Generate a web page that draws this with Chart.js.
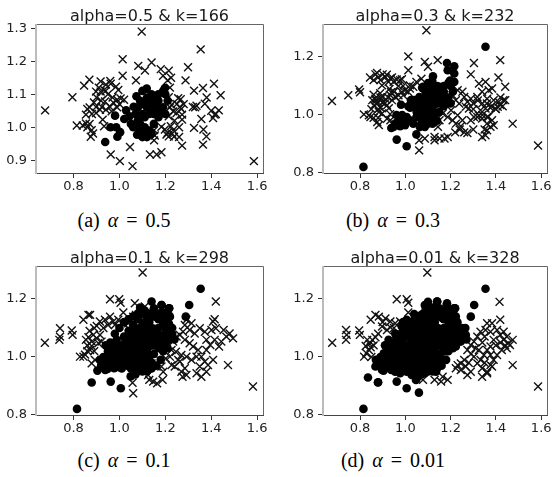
<!DOCTYPE html>
<html><head><meta charset="utf-8">
<script src="https://cdn.jsdelivr.net/npm/chart.js@4/dist/chart.umd.min.js"></script>
<style>
html,body{margin:0;padding:0;background:#fff}
body{width:555px;height:477px;position:relative;overflow:hidden}
canvas{position:absolute}
.cap{position:absolute;font-family:"Liberation Serif","DejaVu Serif",serif;font-size:20px;line-height:20px;color:#000;white-space:nowrap;transform:translateX(-50%)}
.cap i{font-style:italic}
</style></head><body>
<canvas id="pa" width="278" height="196" style="left:0px;top:0px"></canvas>
<canvas id="pb" width="268" height="196" style="left:287px;top:0px"></canvas>
<canvas id="pc" width="278" height="196" style="left:0px;top:242px"></canvas>
<canvas id="pd" width="268" height="196" style="left:287px;top:242px"></canvas>
<div class="cap" id="capa" style="left:124px;top:210px"></div>
<div class="cap" id="capb" style="left:393px;top:210px"></div>
<div class="cap" id="capc" style="left:124px;top:450px"></div>
<div class="cap" id="capd" style="left:393px;top:450px"></div>
<script>
// ---------- data ----------
const titles = ['alpha=0.5 & k=166','alpha=0.3 & k=232','alpha=0.1 & k=298','alpha=0.01 & k=328'];
const capLetters = ['(a)','(b)','(c)','(d)'];
const capAlphas = ['0.5','0.3','0.1','0.01'];
const xTicks = [0.8,1.0,1.2,1.4,1.6];
const yTicksA = [0.9,1.0,1.1,1.2,1.3];
const yTicksBCD = [0.8,1.0,1.2];
const xRange = [0.632,1.630];
const yRangeA = [0.858,1.313];
const yRangeBCD = [0.7965,1.3135];

const crossA = [
[0.676,1.051],[0.795,1.091],[0.846,1.126],[0.869,1.144],[0.860,1.055],[0.854,1.038],[0.814,1.005],[0.840,1.005],[0.854,1.011],[0.879,0.991],[0.875,0.971],[0.885,0.981],
[0.918,1.139],[0.898,1.108],[0.918,1.108],[0.941,1.129],[0.962,1.132],[0.985,1.123],[0.995,1.113],[0.933,1.113],
[0.889,1.075],[0.898,1.061],[0.923,1.061],[0.937,1.078],[0.959,1.061],[0.973,1.075],[0.990,1.083],[1.005,1.087],[1.020,1.083],[0.915,1.053],[0.941,1.053],[0.966,1.048],[0.933,1.003],[0.927,1.023],[0.898,1.043],
[0.870,1.060],[0.880,1.040],[0.900,1.090],[0.920,1.080],[0.950,1.100],[0.970,1.090],[0.960,1.140],[0.990,1.060],[1.000,1.070],[0.910,1.120],[0.940,1.110],[0.870,1.010],[0.860,1.000],
[1.014,1.206],[1.014,1.156],[1.097,1.290],[1.082,1.186],[1.111,1.172],[1.140,1.196],[1.072,1.142],
[1.046,0.940],[0.962,0.917],[1.002,0.897],[1.057,0.882],[1.133,0.917],
[1.354,1.236],[1.299,1.182],[1.288,1.142],[1.325,1.111],[1.364,1.119],[1.412,1.132],[1.441,1.097],[1.320,1.061],[1.336,1.065],[1.372,1.071],[1.357,1.025],[1.325,0.998],[1.366,0.993],[1.379,0.972],[1.364,0.947],[1.415,1.038],[1.433,1.051],[1.408,1.028],[1.586,0.897],
[1.273,0.944],[1.238,0.971],[1.215,0.972],[1.205,0.978],[1.154,0.975],[1.162,0.917],[1.183,0.924],[1.180,1.176],[1.215,1.171],[1.210,1.142],[1.190,1.156],
[1.256,1.088],[1.270,1.055],[1.273,1.023],[1.224,1.003],[1.215,1.033],[1.234,1.048],[1.249,1.043],[1.273,1.038],[1.227,1.068],[1.263,1.061],[1.210,0.983],[1.234,0.991],[1.198,0.993],[1.183,1.001],[1.151,0.960],[1.215,1.091],[1.267,1.085],[1.151,0.991],
[1.240,1.020],[1.260,1.000],[1.280,1.070],[1.220,1.060],[1.250,1.070],[1.230,0.980],[1.260,0.970],[1.330,1.060],[1.400,1.050],[1.420,1.040],[1.380,1.090],[1.220,1.120],[1.225,1.150]
];
const dotA = [
[0.938,0.955],[0.961,1.000],[0.986,1.000],[0.991,0.971],[0.981,1.035],[1.029,1.051],[1.021,1.025],[1.077,0.977],[1.119,1.117],[1.074,1.094],[1.096,1.074],[1.062,1.062],[1.044,1.033],[1.003,0.985],
[1.10,1.11],[1.14,1.10],[1.15,1.09],[1.19,1.11],[1.20,1.10],[1.21,1.08],[1.19,1.06],[1.20,1.04],[1.17,1.03],[1.15,1.01],[1.13,0.99],[1.12,0.97],[1.10,0.97],[1.09,0.99],[1.08,1.02],[1.07,1.04],[1.08,1.06],[1.10,1.07],[1.12,1.06],[1.13,1.04],[1.14,1.06],[1.16,1.05],[1.17,1.08],[1.12,1.09],[1.11,1.00],[1.14,0.98],[1.06,1.00],[1.09,1.08],[1.16,1.07],[1.18,1.05],[1.13,1.08],[1.10,1.04],[1.05,1.01],[1.15,1.04],[1.17,1.10],[1.118,0.99],[1.198,1.119],[1.11,1.03],[1.09,1.01],[1.15,1.06]
];
const crossB = [
[0.676,1.048],[0.748,1.068],[0.796,1.088],[0.800,1.078],[0.817,1.002],[0.839,0.999],[0.846,0.993],[0.844,1.129],[0.868,1.140],[0.875,1.145],
[0.890,1.120],[0.897,1.102],[0.912,1.131],[0.926,1.114],[0.934,1.126],[0.948,1.114],[0.962,1.122],[0.977,1.120],
[0.854,1.051],[0.868,1.056],[0.861,1.033],[0.876,1.039],[0.890,1.025],[0.883,1.010],[0.897,1.005],[0.904,1.045],[0.919,1.033],[0.934,1.068],[0.941,1.051],[0.955,1.062],[0.970,1.068],[0.984,1.079],[0.999,1.085],[1.013,1.079],[1.020,1.091],[1.035,1.097],
[0.876,0.976],[0.883,0.965],[0.919,0.987],[0.934,0.982],[1.013,1.202],[1.013,1.154],[1.086,1.183],[1.100,1.166],[1.071,1.125],[1.049,1.114],[1.093,1.292],
[1.061,0.913],[1.061,0.878],[1.086,0.919],[1.129,0.913],[1.020,1.102],[0.991,1.068],
[0.889,1.075],[0.898,1.061],[0.923,1.061],[0.937,1.078],[0.959,1.061],[0.915,1.053],[0.933,1.003],[0.927,1.023],[0.898,1.043],[0.918,1.139],[0.941,1.129],[0.985,1.123],
[0.860,1.120],[0.880,1.130],[0.900,1.140],[0.930,1.090],[0.950,1.080],[0.970,1.100],[0.990,1.100],[0.860,1.070],[0.870,1.050],[0.890,1.060],[0.910,1.040],[0.880,1.020],[0.850,1.020],[0.860,0.990],[0.880,0.990],
[1.143,1.189],[1.303,1.179],[1.419,1.189],[1.289,1.140],[1.411,1.129],[1.441,1.097],[1.474,0.970],[1.586,0.895],
[1.325,1.108],[1.354,1.114],[1.368,1.085],[1.383,1.091],[1.339,1.080],[1.318,1.062],[1.361,1.056],[1.390,1.051],[1.412,1.045],[1.441,1.051],[1.419,1.034],[1.397,1.022],[1.376,1.025],[1.354,1.022],[1.332,1.016],
[1.318,0.993],[1.339,0.988],[1.361,0.993],[1.383,0.982],[1.376,0.959],[1.390,0.965],[1.361,0.947],[1.339,0.924],[1.354,0.930],[1.274,0.938],[1.245,0.961],[1.223,0.970],[1.209,0.982],[1.187,0.993],[1.165,1.005],
[1.151,0.982],[1.144,0.959],[1.129,0.924],[1.151,0.919],[1.173,0.919],[1.187,0.924],[1.260,1.062],[1.274,1.045],[1.289,1.056],[1.231,1.085],[1.252,1.080],[1.267,1.028],[1.281,1.022],[1.238,1.039],[1.223,1.051],[1.209,1.068],
[1.202,1.016],[1.231,0.999],[1.252,0.982],[1.289,0.982],[1.303,0.993],[1.433,1.051],[1.408,1.028],[1.325,0.998],[1.366,0.993],
[1.300,1.040],[1.320,1.050],[1.340,1.040],[1.360,1.040],[1.380,1.030],[1.400,1.020],[1.420,1.060],[1.430,1.030],[1.300,1.020],[1.340,1.000],[1.360,0.970],[1.350,0.950],[1.300,0.950],[1.260,0.940],[1.240,0.950],[1.220,0.940]
];
const dotBExtra = [
[0.815,0.821],[0.962,0.915],[1.006,0.892],[1.049,0.933],[1.354,1.235],[1.184,1.179],[1.216,1.168],[1.187,1.154],[1.216,1.143],[1.194,1.114],[1.216,1.114],[1.122,1.133],[1.151,1.097],[1.144,1.080],[1.129,1.062],[1.107,1.051],[1.158,1.062],[1.100,1.028],[1.122,1.016],[1.136,1.039],[1.107,0.993],[1.093,0.982],[1.115,1.091],
[0.948,0.959],[0.955,0.970],[0.970,0.982],[0.984,0.991],[1.006,0.993],[1.020,0.982],[0.999,0.965],[0.977,0.961],[1.013,1.030],[1.028,1.039],[1.064,1.016],[1.078,1.097],[1.093,1.051],[1.107,1.062],[1.122,1.085],[1.100,1.005],[1.115,0.982],[1.086,0.959],[1.064,0.959],[1.035,0.970],[1.049,0.993],[1.078,0.988],[1.071,0.972],[1.103,1.108],[1.078,1.091],[1.025,1.051],[1.040,1.051]
];
const crossC = [
[0.675,1.049],[0.741,1.099],[0.741,1.070],[0.738,1.059],[0.792,1.091],[0.796,1.076],[0.828,1.001],[0.843,1.001],[0.850,1.008],[0.843,1.128],[0.865,1.145],[0.872,1.145],
[0.854,1.059],[0.865,1.068],[0.879,1.053],[0.886,1.076],[0.901,1.064],[0.915,1.076],[0.908,1.047],[0.922,1.053],[0.879,1.038],[0.872,1.024],[0.893,0.990],[0.879,0.978],
[0.901,1.107],[0.915,1.122],[0.937,1.128],[0.959,1.139],[0.973,1.122],[0.995,1.128],[1.017,1.116],[1.038,1.116],
[0.860,1.040],[0.870,1.090],[0.890,1.100],[0.930,1.100],[0.950,1.110],[0.980,1.110],[0.890,1.020],[0.860,1.020],
[0.959,1.199],[0.999,1.199],[1.005,1.187],[1.017,1.153],[1.101,1.291],[1.067,1.185],[1.111,1.174],[1.060,1.139],[1.072,1.145],[1.089,1.128],
[1.057,0.911],[1.060,0.875],[1.125,0.938],[1.130,0.921],[1.147,0.915],[1.164,0.909],[1.188,0.921],
[1.205,1.036],[1.220,1.001],[1.227,0.972],[1.241,0.967],[1.263,0.984],[1.285,0.961],[1.270,0.949],[1.292,0.938],[1.275,0.932],[1.256,0.990],[1.234,1.053],[1.249,1.070],[1.263,1.076],[1.277,1.087],[1.285,1.059],[1.306,1.047],[1.321,1.036],[1.343,1.024],[1.357,1.001],[1.372,0.984],[1.350,0.967],[1.336,0.944],[1.357,0.932],[1.379,0.949],[1.386,0.972],[1.408,0.990],[1.379,1.024],[1.396,1.041],[1.415,1.059],[1.434,1.036],[1.444,1.053],[1.466,1.070],[1.480,1.081],[1.495,1.064],[1.454,1.093],[1.420,1.099],[1.401,1.093],[1.372,1.087],[1.350,1.099],[1.328,1.081],[1.306,1.093],[1.285,1.110],[1.292,1.128],[1.314,1.116],[1.408,1.122],[1.420,1.191],[1.415,1.130],[1.379,1.059],[1.336,1.001],[1.314,0.990],[1.292,1.001],[1.270,1.007],[1.246,1.018],[1.227,1.024],[1.202,0.995],[1.183,0.967],[1.191,0.949],[1.162,0.967],[1.176,0.990],[1.140,0.978],[1.582,0.898],[1.473,0.972]
];
const dotCExtra = [
[0.879,0.912],[0.904,0.953],[1.140,1.191],[1.183,1.179],[1.150,1.168],[1.154,1.139],[1.118,1.145],[1.304,1.179],[1.289,1.139],[1.217,1.168],[1.220,1.139],
[0.915,0.990],[0.944,0.967],[0.980,0.972],[0.995,1.007],[1.031,1.024],[0.970,1.036],[0.988,1.059],
[0.93,1.00],[0.95,1.02],[0.96,0.99],[1.00,1.04],[1.02,1.07],[1.04,1.09],[1.06,1.11],[1.08,1.13],[1.10,1.15],[1.05,1.08],[1.03,1.00],[1.06,1.04],[1.20,1.08],[1.22,1.06],[1.21,1.03],[1.19,1.02],[1.18,0.99],[1.16,0.97],[1.14,0.96],[1.12,0.95],[1.10,0.95],[1.07,0.94],[1.05,0.96],[1.23,1.10],[1.21,1.12],[1.17,1.13],[1.13,1.12],[1.06,0.99],[1.01,0.96],[1.04,0.98],[0.99,1.02],
[0.94,1.04],[0.96,1.05],[0.98,1.08],[1.00,1.10],[1.02,1.12],[1.04,1.13],[1.06,1.14],[1.08,1.15],[1.09,1.17],[1.11,1.16],[1.13,1.15],[1.15,1.15],[1.17,1.15],[1.19,1.14],[1.21,1.10],[1.23,1.08],[1.24,1.06],[0.92,0.97],[0.94,0.99],[0.97,1.01],[1.01,1.01],[1.03,1.04],[1.05,1.06],[1.07,1.08],[1.09,1.10],[1.11,1.12],[1.13,1.10],[1.02,0.98],[1.08,0.96]
];
const crossD = [
[0.677,1.049],[0.738,1.093],[0.741,1.076],[0.738,1.059],[0.796,1.091],[0.799,1.076],
[0.818,1.001],[0.828,1.013],[0.839,1.024],[0.825,1.038],[0.847,1.033],[0.842,1.045],[0.854,1.059],[0.868,1.068],[0.832,1.059],
[0.847,1.128],[0.868,1.145],[0.883,1.139],[0.912,1.133],[0.934,1.122],[0.955,1.116],[0.977,1.122],[0.897,1.105],[0.919,1.093],[0.934,1.102],
[0.850,1.000],[0.860,1.040],[0.880,1.080],[0.900,1.120],[0.950,1.100],
[0.962,1.199],[1.006,1.199],[1.013,1.187],[1.013,1.153],[1.097,1.291],
[1.078,0.921],[1.129,0.921],[1.158,0.915],[1.187,0.921],[1.165,0.932],
[1.231,0.972],[1.245,0.978],[1.267,0.967],[1.289,0.949],[1.274,0.938],[1.223,0.961],[1.245,0.955],
[1.274,1.024],[1.289,1.041],[1.303,1.053],[1.318,1.070],[1.332,1.087],[1.354,1.093],[1.376,1.087],[1.361,1.116],[1.383,1.116],[1.405,1.093],[1.434,1.087],[1.448,1.070],[1.474,1.059],[1.455,1.047],[1.434,1.059],[1.419,1.076],[1.390,1.059],[1.376,1.036],[1.361,1.024],[1.347,1.007],[1.332,0.990],[1.318,0.978],[1.339,0.961],[1.361,0.949],[1.376,0.972],[1.390,0.990],[1.405,1.007],[1.426,1.024],[1.448,1.030],[1.462,1.041],[1.376,1.007],[1.339,0.932],[1.361,0.944],[1.383,0.967],[1.416,1.190],[1.419,1.128],[1.474,0.972],[1.586,0.898],[1.303,1.001],[1.325,1.024],
[1.290,1.010],[1.310,1.030],[1.340,1.050],[1.350,1.070],[1.400,1.040],[1.420,1.050],[1.440,1.040],[1.350,0.980],[1.260,0.990],[1.280,0.980]
];
const dotDExtra = [
[0.835,0.929],[0.880,0.913],[1.060,0.877],[1.047,0.921],[1.057,0.932],
[1.086,1.179],[1.141,1.191],[1.184,1.185],[1.220,1.168],[1.223,1.139],[1.187,1.160],[1.147,1.162],[1.103,1.145],[1.126,1.122],[1.165,1.133],[1.039,1.148],[1.071,1.145],
[0.868,0.967],[0.883,0.984],[0.905,1.013],[0.912,0.990],[0.934,0.961],[0.955,0.949],[0.977,0.944],[0.991,0.969],[1.006,0.949],[1.028,0.938],[0.897,0.955],[0.948,0.990],[0.970,1.013],[0.999,1.001],[1.028,0.972],[1.057,0.955],[1.086,0.944],[1.115,0.961],[1.136,0.949],[1.071,0.978],[1.100,1.001],[1.122,0.990],[1.151,0.972],
[0.941,1.036],[0.970,1.059],[0.999,1.070],[0.926,1.059],[0.955,1.081],[0.984,1.105],[1.013,1.093],[1.042,1.059],[1.071,1.047],[1.100,1.070],[1.129,1.059],[1.158,1.047],[1.187,1.059],[1.216,1.070],[1.238,1.087],[1.260,1.099],[1.267,1.076],[1.245,1.053],[1.223,1.036],[1.202,1.081],[1.173,1.093],[1.144,1.099],[1.115,1.110],[1.086,1.110],[1.057,1.105],[1.028,1.116],[1.006,1.128],[1.042,1.024],[1.013,1.036],[0.984,1.036],[1.100,1.024],[1.129,1.024],[1.158,1.013],[1.194,1.116],[1.223,1.105],
[0.870,0.990],[0.890,1.000],[0.900,0.970],[0.920,1.020],[0.940,1.010],[0.960,1.030],[0.980,0.990],[1.020,0.990],[1.040,0.950],[1.080,0.980],[1.120,0.970],[1.160,0.990],[1.180,1.020],[1.200,1.040],[1.240,1.070],[1.260,1.080],[1.250,1.100],[1.230,1.120],[1.210,1.150],[1.180,1.160],[1.120,1.170],[1.090,1.160],[1.050,1.120],[1.020,1.110],[0.990,1.080],[0.960,1.070],[0.940,1.050],[0.910,1.040],[0.990,1.120],[1.100,1.190],[1.270,1.060],[1.265,1.100]
];

// ---------- drawing ----------
const framePlugin = {
  id:'frame',
  afterDatasetsDraw(chart){
    const {ctx, chartArea:a} = chart;
    ctx.save();
    ctx.lineWidth = 1;
    ctx.strokeStyle = '#666';
    ctx.beginPath();
    ctx.moveTo(a.left, a.top+0.5); ctx.lineTo(a.right-0.5, a.top+0.5);
    ctx.lineTo(a.right-0.5, a.bottom-0.5);
    ctx.stroke();
    ctx.strokeStyle = '#444';
    ctx.beginPath(); ctx.moveTo(a.left, a.bottom-0.5); ctx.lineTo(a.right, a.bottom-0.5); ctx.stroke();
    ctx.strokeStyle = '#bbb'; ctx.lineWidth = 2;
    ctx.beginPath(); ctx.moveTo(a.left+1, a.top); ctx.lineTo(a.left+1, a.bottom); ctx.stroke();
    ctx.restore();
  }
};
const titlePlugin = {
  id:'ttl',
  afterDraw(chart, args, opts){
    const {ctx, chartArea:a} = chart;
    ctx.save();
    ctx.font = '16px "DejaVu Sans"';
    ctx.fillStyle = '#1a1a1a';
    ctx.textAlign = 'center';
    ctx.textBaseline = 'alphabetic';
    ctx.fillText(opts.text, (a.left+a.right)/2, a.top-3.5);
    ctx.restore();
  }
};

function pts(arr){ return arr.map(p => ({x:p[0], y:p[1]})); }

function makeChart(id, title, crosses, dots, yRange, yTicks, padRight){
  const tickFont = {family:'DejaVu Sans', size:13};
  return new Chart(document.getElementById(id), {
    type:'scatter',
    data:{datasets:[
      {data:pts(dots), pointStyle:'circle', pointRadius:4.3, pointBackgroundColor:'#000', pointBorderWidth:0, pointBorderColor:'#000'},
      {data:pts(crosses), pointStyle:'crossRot', pointRadius:5.6, pointBorderColor:'#111', pointBackgroundColor:'#111', pointBorderWidth:1.4}
    ]},
    options:{
      responsive:false, animation:false, devicePixelRatio:1, events:[],
      layout:{padding:{left:0, right:padRight, top:24, bottom:0}},
      plugins:{legend:{display:false}, tooltip:{enabled:false}, ttl:{text:title}},
      scales:{
        x:{type:'linear', min:xRange[0], max:xRange[1],
          afterBuildTicks:s=>{ s.ticks = xTicks.map(v=>({value:v})); },
          afterFit:s=>{ s.height = 22; },
          ticks:{callback:v=>Number(v).toFixed(1), font:tickFont, color:'#222', padding:1, maxRotation:0, autoSkip:false},
          grid:{drawOnChartArea:false, drawTicks:true, tickLength:4, color:'#333', lineWidth:1},
          border:{display:false}},
        y:{type:'linear', min:yRange[0], max:yRange[1],
          afterBuildTicks:s=>{ s.ticks = yTicks.map(v=>({value:v})); },
          afterFit:s=>{ s.width = 35; },
          ticks:{callback:v=>Number(v).toFixed(1), font:tickFont, color:'#222', padding:4, autoSkip:false},
          grid:{drawOnChartArea:false, drawTicks:true, tickLength:4, color:'#333', lineWidth:1},
          border:{display:false}}
      }
    },
    plugins:[framePlugin, titlePlugin]
  });
}

const dotB = dotA.concat(dotBExtra);
const dotC = dotB.concat(dotCExtra);
const dotD = dotC.concat(dotDExtra);

makeChart('pa', titles[0], crossA, dotA, yRangeA, yTicksA, 14);
makeChart('pb', titles[1], crossB, dotB, yRangeBCD, yTicksBCD, 4);
makeChart('pc', titles[2], crossC, dotC, yRangeBCD, yTicksBCD, 14);
makeChart('pd', titles[3], crossD, dotD, yRangeBCD, yTicksBCD, 4);

['a','b','c','d'].forEach((k,i)=>{
  document.getElementById('cap'+k).innerHTML =
    capLetters[i] + '<i style="margin-left:8px">α</i><span style="margin:0 8px">=</span>' + capAlphas[i];
});
</script>
</body></html>
